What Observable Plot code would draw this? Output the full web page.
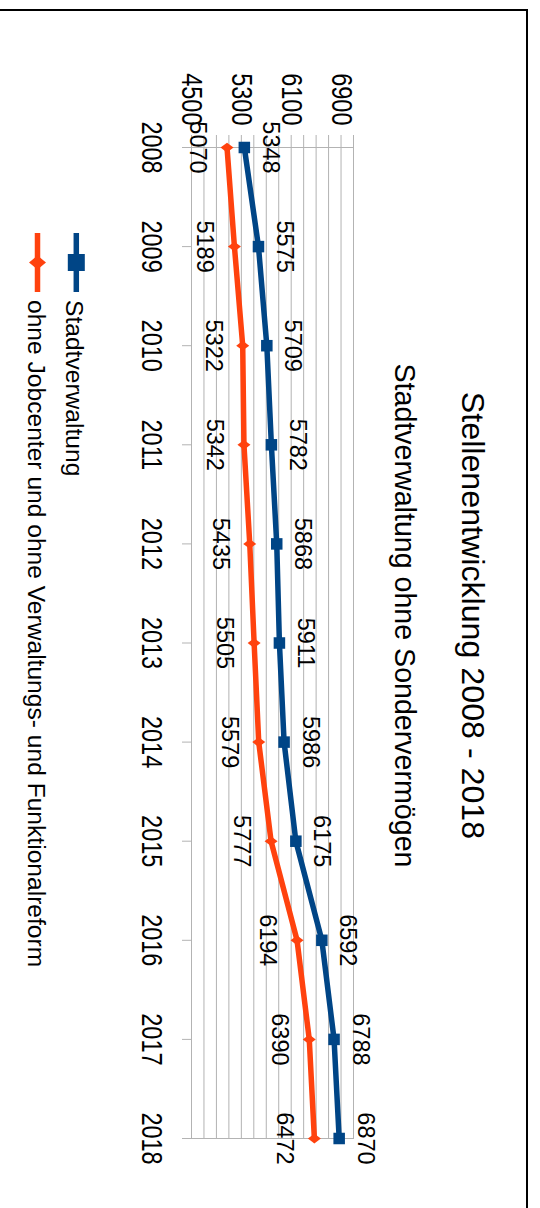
<!DOCTYPE html>
<html>
<head>
<meta charset="utf-8">
<script src="https://cdn.jsdelivr.net/npm/d3@7"></script>
<script src="https://cdn.jsdelivr.net/npm/@observablehq/plot@0.6"></script>
<style>
  html, body { margin: 0; padding: 0; background: #fff; overflow: hidden; }
  #page { position: relative; width: 540px; height: 1208px; overflow: hidden; background: #fff; }
  /* the chart is laid out landscape and turned a quarter clockwise onto the portrait page */
  #sheet {
    position: absolute; left: 540px; top: 0; width: 1208px; height: 540px;
    transform-origin: 0 0; transform: rotate(90deg);
    font-family: "Liberation Sans", Arial, sans-serif; color: #000;
  }
  .txt { position: absolute; white-space: nowrap; line-height: 1; }
  #frame { position: absolute; left: 9px; top: 12px; width: 1400px; height: 800px;
           border-left: 2px solid #000; border-top: 2px solid #000; }
</style>
</head>
<body>
<div id="page"><div id="sheet"><div id="frame"></div></div></div>
<script>
// Stellen je Jahr
const years = [2008, 2009, 2010, 2011, 2012, 2013, 2014, 2015, 2016, 2017, 2018];
const stadtverwaltung = [5348, 5575, 5709, 5782, 5868, 5911, 5986, 6175, 6592, 6788, 6870];
const ohneJobcenter = [5070, 5189, 5322, 5342, 5435, 5505, 5579, 5777, 6194, 6390, 6472];

const seriesNames = ["Stadtverwaltung", "ohne Jobcenter und ohne Verwaltungs- und Funktionalreform"];
const seriesColors = ["#004586", "#ff420e"];

const valueTicks = [4500, 4700, 4900, 5100, 5300, 5500, 5700, 5900, 6100, 6300, 6500, 6700, 6900, 7100];
const valueTickLabels = [4500, 5300, 6100, 6900];

const titleText = "Stellenentwicklung 2008 - 2018";
const subtitleText = "Stadtverwaltung ohne Sondervermögen";

const rows = [
  ...years.map((year, i) => ({year, value: stadtverwaltung[i], series: seriesNames[0]})),
  ...years.map((year, i) => ({year, value: ohneJobcenter[i], series: seriesNames[1]}))
];
const rowsA = rows.filter(d => d.series === seriesNames[0]);
const rowsB = rows.filter(d => d.series === seriesNames[1]);

// diamond a little narrower than it is tall
const narrowDiamond = {
  draw(context, size) {
    const r = Math.sqrt(size / Math.PI);
    const w = r * 0.75;
    context.moveTo(0, -r);
    context.lineTo(w, 0);
    context.lineTo(0, r);
    context.lineTo(-w, 0);
    context.closePath();
  }
};

const grid = "#b3b3b3";
const font = "'Liberation Sans', Arial, sans-serif";

const chart = Plot.plot({
  width: 1208,
  height: 540,
  marginLeft: 147,
  marginRight: 70,
  marginTop: 186,
  marginBottom: 192,
  style: {fontFamily: font, color: "#000", background: "transparent", overflow: "visible"},
  x: {domain: [2008, 2018]},
  y: {domain: [4500, 7100]},
  color: {domain: seriesNames, range: seriesColors},
  marks: [
    Plot.gridY({ticks: valueTicks, stroke: grid, strokeOpacity: 1, strokeWidth: 1}),
    Plot.ruleX([2008, 2018], {y1: 4500, y2: 7100, stroke: grid, strokeWidth: 1}),
    Plot.axisY({ticks: valueTicks, tickSize: 12, tickPadding: 10, fontSize: 29,
      stroke: grid, fill: "#000", label: null,
      tickFormat: d => valueTickLabels.includes(d) ? String(d) : ""}),
    Plot.axisX({ticks: years, tickSize: 10, tickPadding: 19, fontSize: 29,
      stroke: grid, fill: "#000", label: null, tickFormat: d => String(d)}),
    Plot.line(rows, {x: "year", y: "value", stroke: "series", z: "series",
      strokeWidth: 5.5, strokeLinejoin: "round"}),
    Plot.dot(rowsA, {x: "year", y: "value", symbol: "square", r: 6.5, fill: seriesColors[0], stroke: null}),
    Plot.dot(rowsB, {x: "year", y: "value", symbol: narrowDiamond, r: 6.5, fill: seriesColors[1], stroke: null}),
    Plot.text(rowsA, {x: "year", y: "value", text: d => String(d.value), dy: -26, fontSize: 23.5, fill: "#000"}),
    Plot.text(rowsB, {x: "year", y: "value", text: d => String(d.value), dy: 29.5, fontSize: 23.5, fill: "#000"})
  ]
});

// tick labels are set in a condensed cut
function condense(svg, label, k) {
  svg.querySelectorAll(`g[aria-label="${label}"] text`).forEach(t => {
    let tr = t.getAttribute("transform");
    if (!tr) {
      const x = +t.getAttribute("x") || 0, y = +t.getAttribute("y") || 0;
      t.removeAttribute("x"); t.removeAttribute("y");
      tr = `translate(${x},${y})`;
    }
    t.setAttribute("transform", `${tr} scale(${k},1)`);
  });
}
condense(chart, "x-axis tick label", 0.81);
condense(chart, "y-axis tick label", 0.81);

chart.style.position = "absolute";
chart.style.left = "0px";
chart.style.top = "0px";
const sheet = document.getElementById("sheet");
sheet.appendChild(chart);

// headings and legend labels, placed by their baseline
function addText(text, x, baseline, size, anchor) {
  const el = document.createElement("div");
  el.className = "txt";
  el.textContent = text;
  el.style.fontSize = size + "px";
  el.style.top = (baseline - 0.8465 * size) + "px";
  el.style.left = x + "px";
  if (anchor === "middle") el.style.transform = "translateX(-50%)";
  sheet.appendChild(el);
  return el;
}
addText(titleText, 615.5, 78, 32.2, "middle");
addText(subtitleText, 615.5, 145, 28.6, "middle");

// legend
const ns = "http://www.w3.org/2000/svg";
const leg = document.createElementNS(ns, "svg");
leg.setAttribute("width", 1208);
leg.setAttribute("height", 540);
leg.style.position = "absolute";
leg.style.left = "0px";
leg.style.top = "0px";
sheet.appendChild(leg);
const legendRows = [
  {y: 463.7, baseline: 475, shape: "square"},
  {y: 502.5, baseline: 513, shape: "diamond"}
];
legendRows.forEach((r, i) => {
  const line = document.createElementNS(ns, "line");
  line.setAttribute("x1", 233); line.setAttribute("x2", 292);
  line.setAttribute("y1", r.y); line.setAttribute("y2", r.y);
  line.setAttribute("stroke", seriesColors[i]);
  line.setAttribute("stroke-width", 5.5);
  leg.appendChild(line);
  const cx = 262.5;
  let m;
  if (r.shape === "square") {
    m = document.createElementNS(ns, "rect");
    m.setAttribute("x", cx - 8.5); m.setAttribute("y", r.y - 8.5);
    m.setAttribute("width", 17); m.setAttribute("height", 17);
  } else {
    m = document.createElementNS(ns, "polygon");
    m.setAttribute("points", `${cx},${r.y - 8.5} ${cx + 7},${r.y} ${cx},${r.y + 8.5} ${cx - 7},${r.y}`);
  }
  m.setAttribute("fill", seriesColors[i]);
  leg.appendChild(m);
  addText(seriesNames[i], 300, r.baseline, 24.6, "start");
});
</script>
</body>
</html>
